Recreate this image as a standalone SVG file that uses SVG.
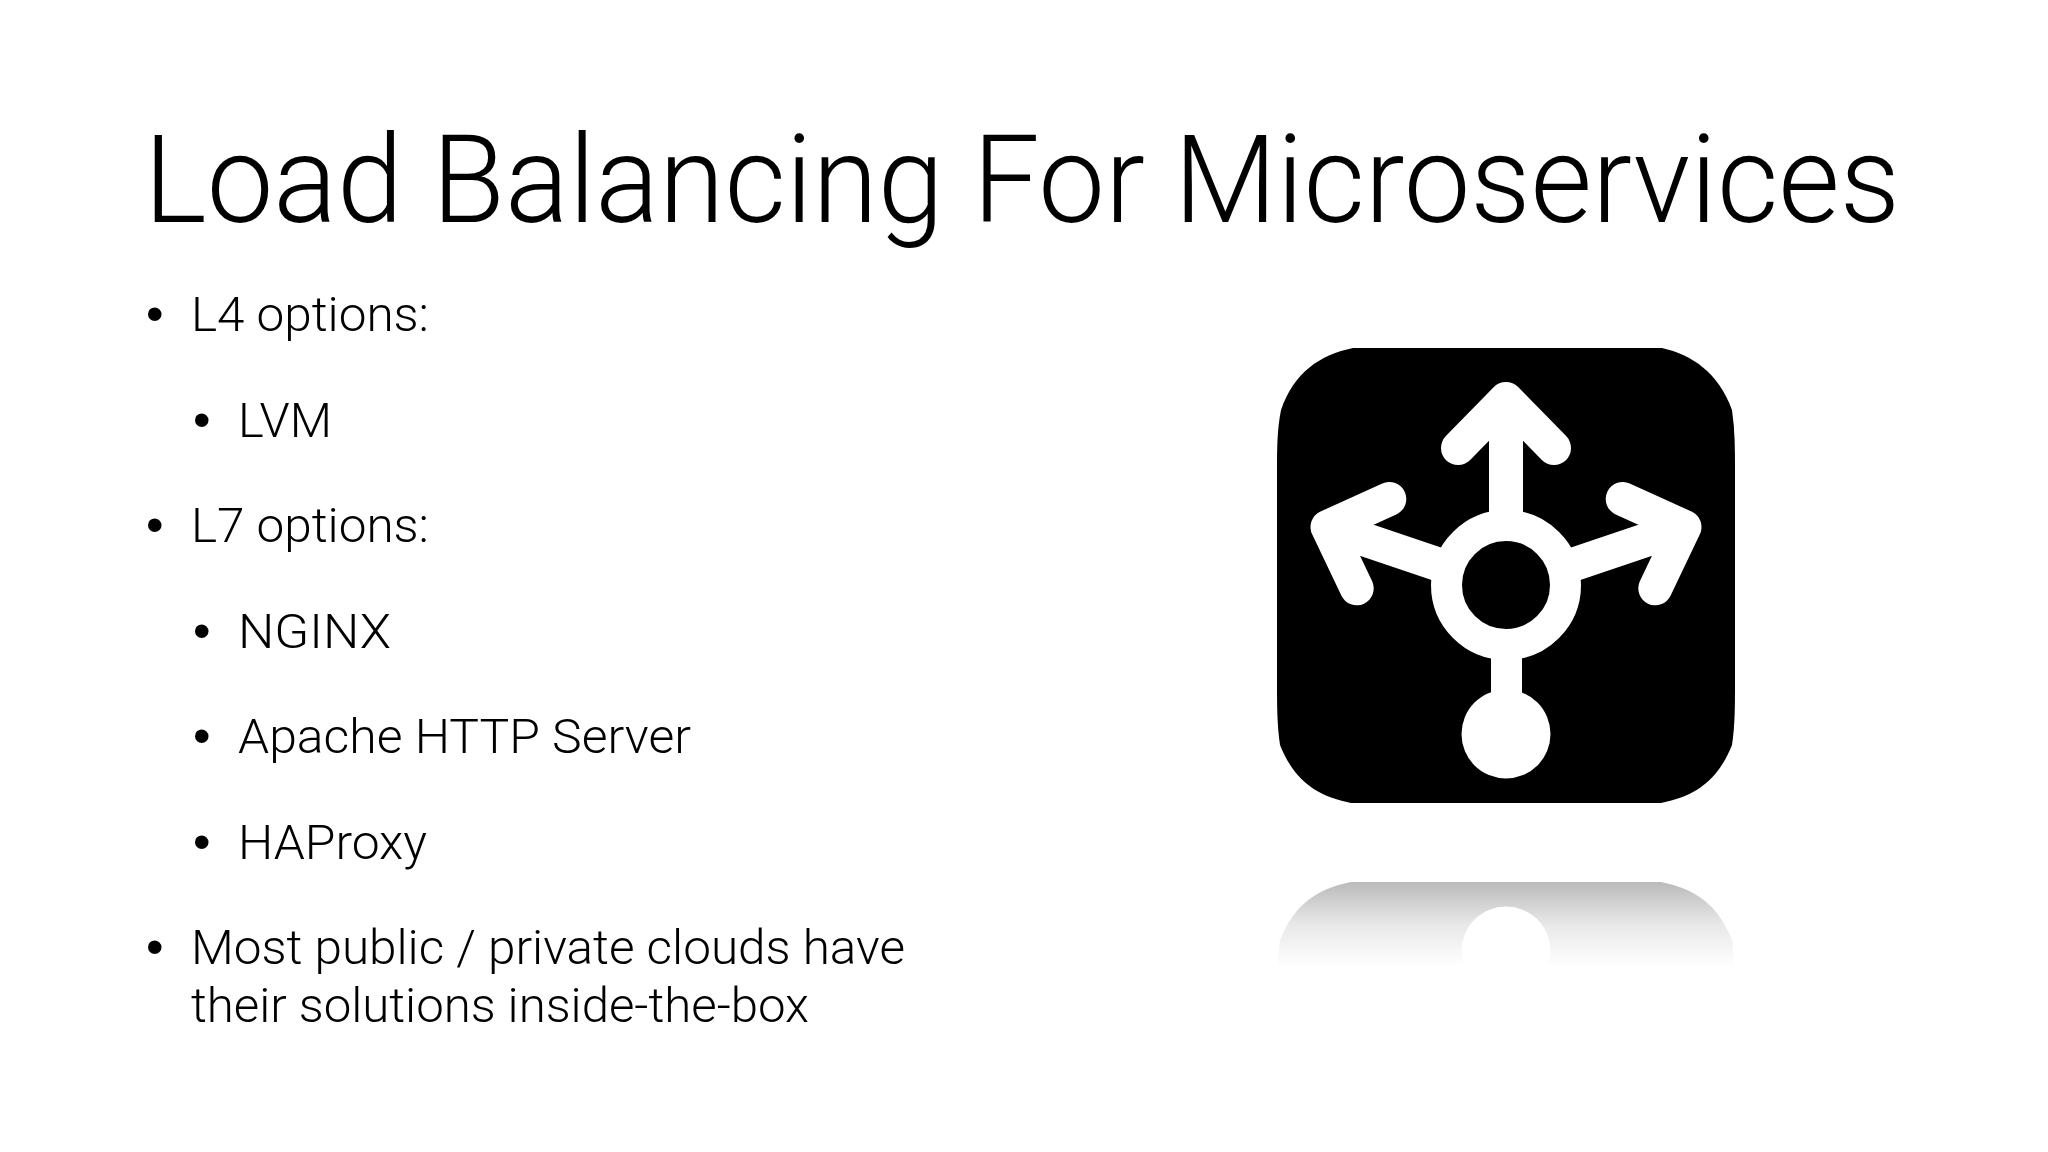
<svg xmlns="http://www.w3.org/2000/svg" width="2048" height="1152" viewBox="0 0 2048 1152">
<style>
text{font-family:"Roboto","Liberation Sans",sans-serif;font-weight:300;fill:#000}
.t{font-size:122px}
.b{font-size:48px}
text.d{font-family:"Liberation Sans",sans-serif;font-weight:400;font-size:50px}
.w{fill:none;stroke:#fff;stroke-width:34;stroke-linecap:round;stroke-linejoin:round}
</style>
<defs>
<path id="sq" d="M1353 348H1662C1692 355 1718 372 1732 410C1735 430 1735 450 1735 470V680C1735 705 1735 725 1732 745C1718 780 1696 796 1661 803H1351C1316 796 1294 780 1280 745C1277 725 1277 705 1277 680V470C1277 450 1277 430 1281 410C1294 372 1320 355 1353 348Z"/>
<linearGradient id="fade" gradientUnits="userSpaceOnUse" x1="0" y1="803" x2="0" y2="718">
<stop offset="0" stop-color="#000" stop-opacity=".27"/>
<stop offset=".5" stop-color="#000" stop-opacity=".09"/>
<stop offset="1" stop-color="#000" stop-opacity="0"/>
</linearGradient>
</defs>
<rect width="2048" height="1152" fill="#fff"/>
<text class="t" x="144" y="222" textLength="1756" lengthAdjust="spacingAndGlyphs">Load Balancing For Microservices</text>
<g id="bullets">
<text class="d" x="146" y="331">•</text><text class="b" x="191" y="331" textLength="238" lengthAdjust="spacingAndGlyphs">L4 options:</text>
<text class="d" x="193" y="437">•</text><text class="b" x="238" y="437" textLength="94" lengthAdjust="spacingAndGlyphs">LVM</text>
<text class="d" x="146" y="542">•</text><text class="b" x="191" y="542" textLength="238" lengthAdjust="spacingAndGlyphs">L7 options:</text>
<text class="d" x="193" y="648">•</text><text class="b" x="238" y="648" textLength="153" lengthAdjust="spacingAndGlyphs">NGINX</text>
<text class="d" x="193" y="753">•</text><text class="b" x="238" y="753" textLength="453" lengthAdjust="spacingAndGlyphs">Apache HTTP Server</text>
<text class="d" x="193" y="859">•</text><text class="b" x="238" y="859" textLength="189" lengthAdjust="spacingAndGlyphs">HAProxy</text>
<text class="d" x="146" y="964">•</text><text class="b" x="191" y="964" textLength="714" lengthAdjust="spacingAndGlyphs">Most public / private clouds have</text>
<text class="b" x="191" y="1022" textLength="618" lengthAdjust="spacingAndGlyphs">their solutions inside-the-box</text>
</g>
<g id="icon">
<use href="#sq" fill="#000"/>
<circle cx="1506" cy="585" r="59.5" fill="none" stroke="#fff" stroke-width="31"/>
<rect x="1491" y="650" width="31" height="50" fill="#fff"/>
<circle cx="1506" cy="734" r="44.5" fill="#fff"/>
<path class="w" d="M1506 399V518M1458 448L1506 399L1554 448"/>
<path class="w" d="M1389.3 499L1327.5 527L1356.7 588.3M1327.5 527L1440 565"/>
<path class="w" d="M1622.7 499L1684.5 527L1655.3 588.3M1684.5 527L1572 565"/>
</g>
<g id="reflection">
<use href="#sq" fill="url(#fade)" transform="matrix(1 0 0 -1 0 1685)"/>
<circle cx="1506" cy="951" r="44.5" fill="#fff"/>
</g>
</svg>
